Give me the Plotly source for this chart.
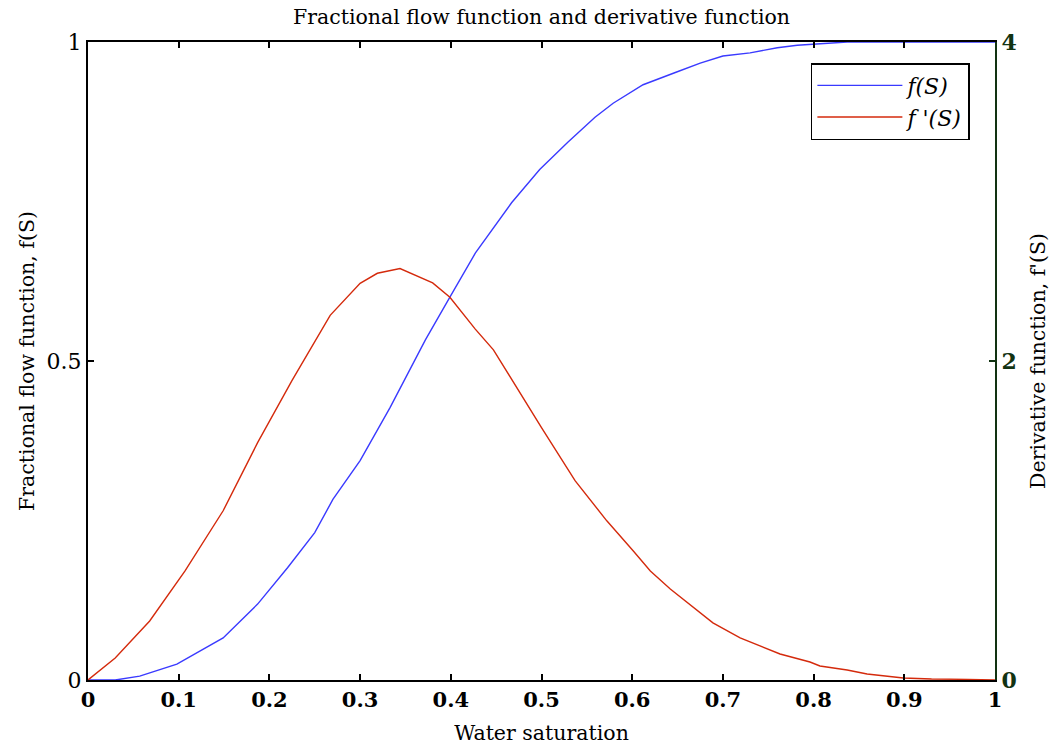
import plotly.graph_objects as go

# Water saturation grid and fractional flow f(S)
s_flow = [0.0, 0.03, 0.057, 0.098, 0.149, 0.187, 0.22, 0.25, 0.27, 0.30, 0.333,
          0.372, 0.399, 0.427, 0.467, 0.498, 0.529, 0.559, 0.579, 0.612, 0.649,
          0.675, 0.70, 0.73, 0.76, 0.782, 0.837, 0.90, 1.0]
f_flow = [0.0, 0.0, 0.006, 0.025, 0.066, 0.119, 0.176, 0.231, 0.283, 0.344, 0.427,
          0.533, 0.600, 0.669, 0.748, 0.800, 0.843, 0.882, 0.904, 0.933, 0.953,
          0.967, 0.978, 0.983, 0.991, 0.995, 1.0, 1.0, 1.0]

# Derivative f'(S)
s_deriv = [0.0, 0.03, 0.068, 0.107, 0.149, 0.187, 0.225, 0.267, 0.30, 0.319, 0.344,
           0.38, 0.399, 0.427, 0.447, 0.469, 0.50, 0.537, 0.572, 0.601, 0.62, 0.642,
           0.689, 0.719, 0.741, 0.763, 0.796, 0.807, 0.837, 0.859, 0.899, 0.93,
           0.97, 1.0]
f_deriv = [0.0, 0.138, 0.37, 0.684, 1.061, 1.488, 1.878, 2.286, 2.487, 2.55, 2.58,
           2.49, 2.40, 2.20, 2.07, 1.865, 1.582, 1.25, 0.998, 0.81, 0.684, 0.571,
           0.358, 0.264, 0.213, 0.163, 0.113, 0.088, 0.063, 0.038, 0.013, 0.006,
           0.004, 0.0]

x_ticks = [0, 0.1, 0.2, 0.3, 0.4, 0.5, 0.6, 0.7, 0.8, 0.9, 1]
x_tick_text = ["0", "0.1", "0.2", "0.3", "0.4", "0.5", "0.6", "0.7", "0.8", "0.9", "1"]
left_ticks = [0, 0.5, 1]
left_tick_text = ["0", "0.5", "1"]
right_ticks = [0, 2, 4]
right_tick_text = ["0", "2", "4"]

FONT = "DejaVu Serif"
GREEN = "#123312"

fig = go.Figure()
fig.add_trace(go.Scatter(
    x=s_flow, y=f_flow, mode="lines", name="<i>f(S)</i>",
    line=dict(color="#3a3aff", width=1.4), yaxis="y"))
fig.add_trace(go.Scatter(
    x=s_deriv, y=f_deriv, mode="lines", name="<i>f '(S)</i>",
    line=dict(color="#d42a0c", width=1.4), yaxis="y2"))

fig.update_layout(
    width=1053, height=749,
    paper_bgcolor="white", plot_bgcolor="white",
    margin=dict(l=88, r=58, t=42, b=69),
    font=dict(family=FONT, size=20, color="black"),
    title=dict(text="Fractional flow function and derivative function",
               x=0.5, xanchor="center", xref="paper",
               y=0.977, yanchor="middle",
               font=dict(family=FONT, size=20.5, color="black")),
    xaxis=dict(
        range=[0, 1], tickvals=x_ticks, ticktext=x_tick_text, automargin=False,
        ticks="inside", ticklen=6, tickwidth=1.5, tickcolor="black",
        showline=True, linecolor="black", linewidth=2, mirror="ticks",
        showgrid=False, zeroline=False,
        tickfont=dict(family=FONT, size=21, color="black", weight="bold"),
        title=dict(text="Water saturation", standoff=14,
                   font=dict(family=FONT, size=20.5, color="black"))),
    yaxis=dict(
        range=[0, 1], tickvals=left_ticks, ticktext=left_tick_text, automargin=False,
        ticks="inside", ticklen=6, tickwidth=1.5, tickcolor="black",
        showline=True, linecolor="black", linewidth=2,
        showgrid=False, zeroline=False,
        tickfont=dict(family=FONT, size=22, color="black"),
        title=dict(text="Fractional flow function, f(S)", standoff=6,
                   font=dict(family=FONT, size=20.5, color="black"))),
    yaxis2=dict(
        range=[0, 4], tickvals=right_ticks, ticktext=right_tick_text, automargin=False,
        overlaying="y", side="right",
        ticks="inside", ticklen=6, tickwidth=1.5, tickcolor=GREEN,
        showline=True, linecolor=GREEN, linewidth=2,
        showgrid=False, zeroline=False,
        tickfont=dict(family=FONT, size=22, color=GREEN, weight="bold"),
        title=dict(text="Derivative function, f'(S)", standoff=15,
                   font=dict(family=FONT, size=20.5, color="black"))),
    legend=dict(
        x=0.797, y=0.967, xanchor="left", yanchor="top",
        bgcolor="white", bordercolor="black", borderwidth=1.5,
        font=dict(family=FONT, size=22, color="black"),
        itemwidth=85, tracegroupgap=4),
    showlegend=True,
)

fig.write_html("out.html")
